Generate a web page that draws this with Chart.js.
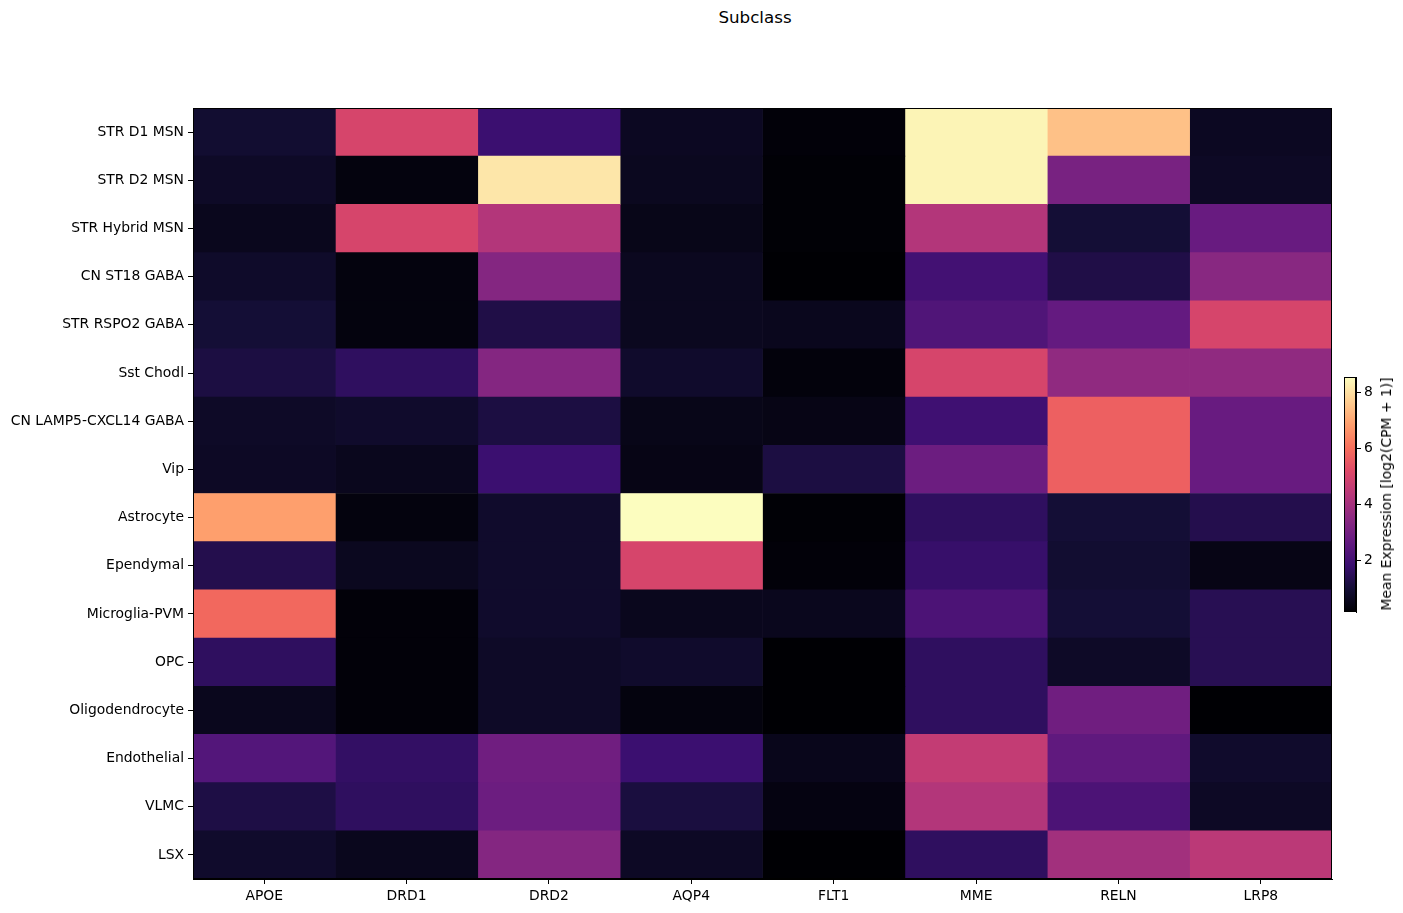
<!DOCTYPE html>
<html>
<head>
<meta charset="utf-8">
<script src="https://cdn.jsdelivr.net/npm/chart.js@4/dist/chart.umd.min.js"></script>
<style>
  html, body { margin: 0; padding: 0; background: #fff; }
  body { width: 1403px; height: 913px; position: relative; overflow: hidden; font-family: 'DejaVu Sans', sans-serif; }
  #main { position: absolute; left: 0; top: 0; }
  #cbar { position: absolute; left: 1300px; top: 360px; }
  #title { position: absolute; left: 0; width: 1510px; top: 7px; text-align: center; font-size: 16.7px; color: #000; }
  #cblabel { position: absolute; left: 1386px; top: 494px; font-size: 13.9px; color: #000; white-space: nowrap;
             transform: translate(-50%, -50%) rotate(-90deg); }
</style>
</head>
<body>
<div id="title">Subclass</div>
<canvas id="main" width="1403" height="913"></canvas>
<canvas id="cbar" width="103" height="280"></canvas>
<div id="cblabel">Mean Expression [log2(CPM + 1)]</div>
<script>
// ---- data ----
const subclasses = ['STR D1 MSN','STR D2 MSN','STR Hybrid MSN','CN ST18 GABA','STR RSPO2 GABA','Sst Chodl',
  'CN LAMP5-CXCL14 GABA','Vip','Astrocyte','Ependymal','Microglia-PVM','OPC','Oligodendrocyte','Endothelial','VLMC','LSX'];
const genes = ['APOE','DRD1','DRD2','AQP4','FLT1','MME','RELN','LRP8'];

const apoe = [0.91, 0.74, 0.57, 0.78, 0.99, 1.16, 0.74, 0.70, 6.87, 1.33, 5.86, 1.58, 0.57, 2.33, 1.20, 0.82];
const drd1 = [5.02, 0.32, 5.02, 0.32, 0.32, 1.58, 0.82, 0.57, 0.32, 0.61, 0.23, 0.23, 0.23, 1.66, 1.58, 0.57];
const drd2 = [1.83, 8.13, 4.27, 3.34, 1.24, 3.34, 1.16, 1.83, 0.82, 0.82, 0.82, 0.74, 0.74, 2.92, 2.84, 3.34];
const aqp4 = [0.65, 0.61, 0.49, 0.61, 0.61, 0.82, 0.49, 0.44, 8.55, 5.02, 0.57, 0.82, 0.32, 1.83, 1.12, 0.70];
const flt1 = [0.23, 0.19, 0.19, 0.15, 0.57, 0.28, 0.44, 1.16, 0.19, 0.23, 0.57, 0.15, 0.15, 0.53, 0.36, 0.15];
const mme  = [8.38, 8.38, 4.27, 2.00, 2.25, 5.02, 1.91, 2.84, 1.58, 1.75, 2.17, 1.58, 1.58, 4.60, 4.27, 1.58];
const reln = [7.46, 3.09, 0.99, 1.24, 2.67, 3.59, 5.69, 5.69, 0.99, 0.91, 0.99, 0.74, 2.92, 2.59, 2.17, 3.93];
const lrp8 = [0.65, 0.70, 2.75, 3.43, 5.02, 3.59, 2.75, 2.75, 1.33, 0.44, 1.41, 1.41, 0.15, 0.82, 0.70, 4.43];
const geneValues = [apoe, drd1, drd2, aqp4, flt1, mme, reln, lrp8];

const VMIN = 0.15, VMAX = 8.55;
const cbarTicks = [2, 4, 6, 8];

// ---- magma colormap ----
const magmaStops = ['#000004','#140e36','#3b0f70','#641a80','#8c2981','#b73779','#de4968','#f7705c','#fe9f6d','#fecf92','#fcfdbf'];
const magmaRGB = magmaStops.map(h => [parseInt(h.slice(1,3),16), parseInt(h.slice(3,5),16), parseInt(h.slice(5,7),16)]);
function magma(t) {
  t = Math.max(0, Math.min(1, t));
  const p = t * (magmaRGB.length - 1);
  const i = Math.min(Math.floor(p), magmaRGB.length - 2);
  const f = p - i;
  const a = magmaRGB[i], b = magmaRGB[i + 1];
  return 'rgb(' + [0,1,2].map(k => Math.round(a[k] + (b[k] - a[k]) * f)).join(',') + ')';
}
function colorFor(v) { return magma((v - VMIN) / (VMAX - VMIN)); }

Chart.defaults.font.family = "'DejaVu Sans', sans-serif";
Chart.defaults.color = '#000';
Chart.defaults.animation = false;

const frame = {
  id: 'frame',
  afterDraw(chart) {
    const {ctx, chartArea: a} = chart;
    ctx.save();
    ctx.strokeStyle = '#000';
    ctx.lineWidth = 1;
    ctx.strokeRect(Math.round(a.left) + 0.5, Math.round(a.top) + 0.5, Math.round(a.right - a.left) - 1, Math.round(a.bottom - a.top) - 1);
    ctx.restore();
  }
};

// ---- heatmap ----
new Chart(document.getElementById('main'), {
  type: 'bar',
  data: {
    labels: subclasses,
    datasets: genes.map((g, gi) => ({
      label: g,
      data: subclasses.map(() => [gi, gi + 1]),
      backgroundColor: geneValues[gi].map(colorFor),
      borderWidth: 0,
      barPercentage: 1,
      categoryPercentage: 1,
      grouped: false
    }))
  },
  options: {
    indexAxis: 'y',
    responsive: false,
    layout: { padding: { left: 0, top: 108, right: 71, bottom: 0 } },
    plugins: { legend: { display: false }, tooltip: { enabled: false } },
    scales: {
      x: {
        type: 'linear', min: 0, max: genes.length, position: 'bottom',
        afterBuildTicks: ax => { ax.ticks = genes.map((g, i) => ({ value: i + 0.5 })); },
        afterFit: ax => { ax.height = 34; },
        ticks: { callback: (v, i) => genes[i], autoSkip: false, maxRotation: 0, font: { size: 13.9 }, color: '#000', padding: 4 },
        grid: { drawOnChartArea: false, drawTicks: true, tickLength: 5, color: '#000' },
        border: { color: '#000' }
      },
      y: {
        type: 'category', position: 'left',
        afterFit: ax => { ax.width = 193; },
        ticks: { autoSkip: false, font: { size: 13.9 }, color: '#000', padding: 4 },
        grid: { offset: false, drawOnChartArea: false, drawTicks: true, tickLength: 5, color: '#000' },
        border: { color: '#000' }
      }
    }
  },
  plugins: [frame]
});

// ---- colorbar ----
new Chart(document.getElementById('cbar'), {
  type: 'bar',
  data: {
    labels: [''],
    datasets: [{
      data: [[VMIN, VMAX]],
      backgroundColor: (c) => {
        const a = c.chart.chartArea;
        if (!a) return '#000';
        const g = c.chart.ctx.createLinearGradient(0, a.bottom, 0, a.top);
        magmaStops.forEach((s, i) => g.addColorStop(i / (magmaStops.length - 1), s));
        return g;
      },
      borderWidth: 0, barPercentage: 1, categoryPercentage: 1
    }]
  },
  options: {
    responsive: false,
    layout: { padding: { left: 44, top: 17, right: 17, bottom: 28 } },
    plugins: { legend: { display: false }, tooltip: { enabled: false } },
    scales: {
      x: { display: false },
      y: {
        position: 'right', min: VMIN, max: VMAX,
        afterBuildTicks: ax => { ax.ticks = cbarTicks.map(v => ({ value: v })); },
        afterFit: ax => { ax.width = 30; },
        ticks: { font: { size: 13.9 }, color: '#000', padding: 3 },
        grid: { drawOnChartArea: false, drawTicks: true, tickLength: 5, color: '#000' },
        border: { color: '#000' }
      }
    }
  },
  plugins: [frame]
});
</script>
</body>
</html>
